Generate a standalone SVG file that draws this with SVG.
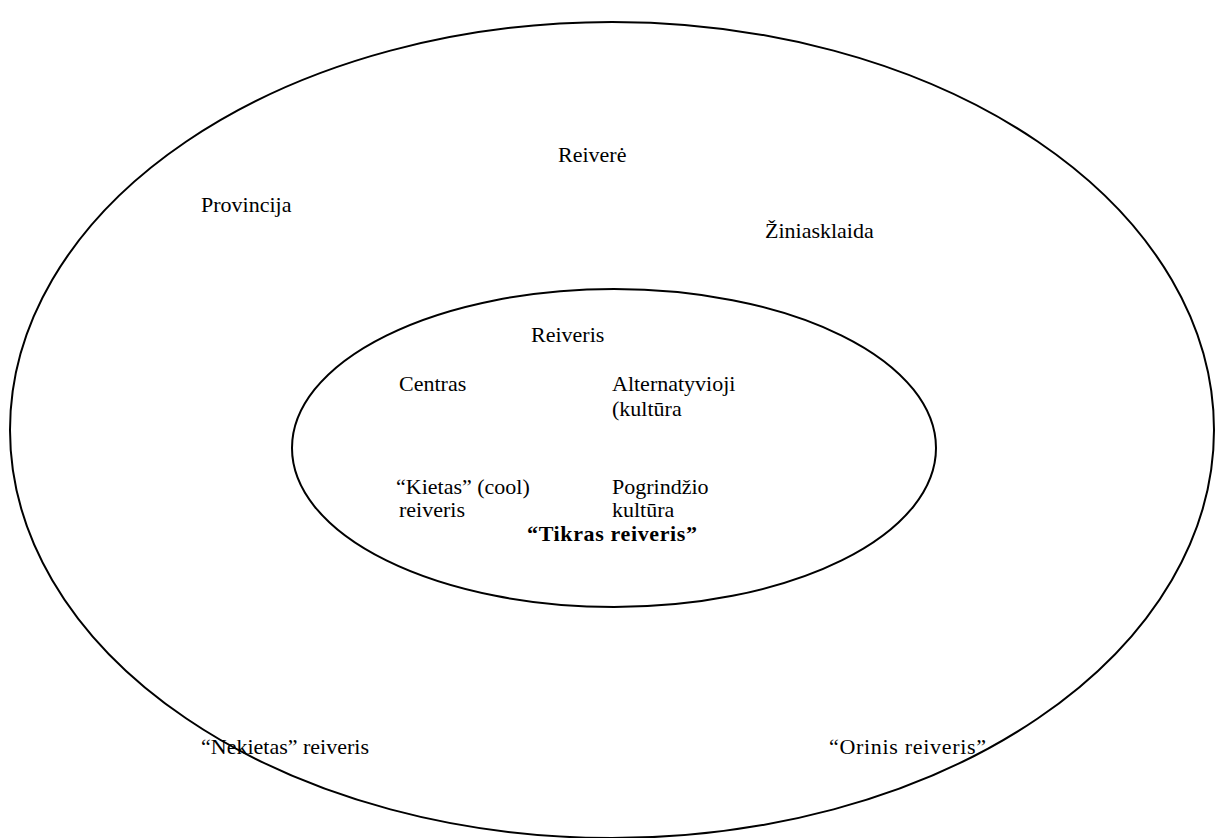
<svg xmlns="http://www.w3.org/2000/svg" width="1215" height="838" viewBox="0 0 1215 838">
<style>
.ring{fill:none;stroke:#000;stroke-width:2}
text{font-family:"Liberation Serif","Times New Roman",serif;font-size:22px;fill:#000}
.b{font-weight:bold}
</style>
<rect width="1215" height="838" fill="#fff"/>
<g id="connectors"></g>
<g id="outer">
<ellipse class="ring" cx="612" cy="430" rx="602" ry="408"/>
<text x="558" y="162">Reiverė</text>
<text x="201" y="212">Provincija</text>
<text x="765" y="238">Žiniasklaida</text>
<text x="201" y="754">“Nekietas” reiveris</text>
<text x="829" y="754" textLength="157">“Orinis reiveris”</text>
</g>
<g id="inner">
<ellipse class="ring" cx="614" cy="448" rx="322" ry="159"/>
<text x="531" y="342">Reiveris</text>
<text x="399" y="391">Centras</text>
<text x="612" y="391">Alternatyvioji</text>
<text x="612" y="416">(kultūra</text>
<text x="396" y="494">“Kietas” (cool)</text>
<text x="399" y="517">reiveris</text>
<text x="612" y="494">Pogrindžio</text>
<text x="612" y="517">kultūra</text>
<text class="b" x="527" y="541" textLength="170">“Tikras reiveris”</text>
</g>
</svg>
